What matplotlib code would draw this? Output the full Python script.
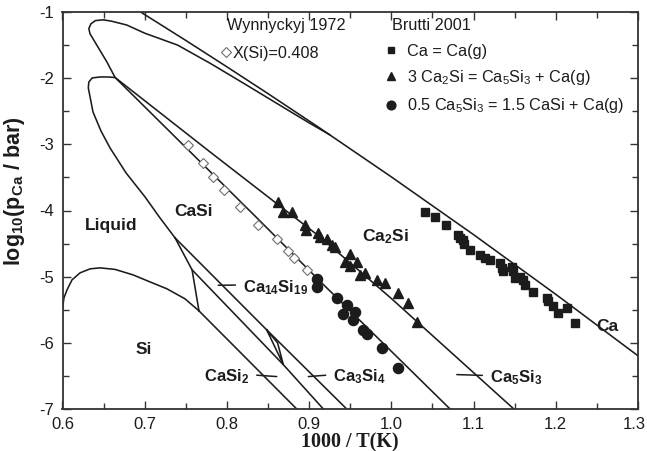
import numpy as np
import matplotlib
matplotlib.use('Agg')
import matplotlib.pyplot as plt
import matplotlib.transforms as mtransforms
from matplotlib.lines import Line2D

plt.rcParams['font.family'] = ['Liberation Sans', 'DejaVu Sans']
plt.rcParams['mathtext.fontset'] = 'custom'
plt.rcParams['mathtext.rm'] = 'Liberation Sans'
plt.rcParams['mathtext.it'] = 'Liberation Sans:italic'
plt.rcParams['mathtext.bf'] = 'Liberation Sans:bold'
plt.rcParams['mathtext.default'] = 'regular'
plt.rcParams['axes.unicode_minus'] = False

INK = '#1c1c1c'

# ---------------- data (x = 1000/T, y = log10 pCa) ----------------
# Ca(l,s)/gas line
ca_x = [0.695, 0.75, 0.80, 0.85, 0.9133, 1.0, 1.1, 1.2, 1.3]
ca_y = [-1.0, -1.430, -1.829, -2.234, -2.757, -3.492, -4.365, -5.267, -6.196]

# outer liquid loop (from Ca-line junction round the top) continuing as Ca2Si/Ca5Si3 line
outer_x = [0.925, 0.90, 0.86, 0.82, 0.78, 0.74, 0.70, 0.678, 0.66, 0.6496, 0.640, 0.6345,
           0.632, 0.6335, 0.6416, 0.6538, 0.664, 0.78, 0.86, 0.9133, 1.0, 1.149]
outer_y = [-2.855, -2.676, -2.376, -2.075, -1.778, -1.50, -1.32, -1.196, -1.14, -1.118, -1.13, -1.18,
           -1.25, -1.33, -1.498, -1.751, -1.99, -3.12, -3.89, -4.40, -5.33, -7.0]

# inner liquid loop (CaSi) continuing as Ca5Si3/CaSi line
inner_x = [0.7369, 0.7186, 0.7004, 0.6773, 0.6578, 0.6468, 0.6371, 0.6314, 0.632, 0.636,
           0.6456, 0.6553, 0.664, 0.8403, 0.9133, 1.0714]
inner_y = [-4.414, -4.112, -3.795, -3.432, -3.054, -2.798, -2.511, -2.148, -2.06, -1.997,
           -1.982, -1.982, -1.99, -4.159, -5.07, -7.0]

# Si liquidus
si_x = [0.600, 0.6018, 0.6055, 0.6116, 0.6213, 0.6335, 0.6456, 0.6639, 0.6858, 0.7064, 0.7271, 0.749, 0.766]
si_y = [-5.486, -5.32, -5.20, -5.048, -4.943, -4.882, -4.867, -4.89, -4.973, -5.079, -5.184, -5.335, -5.517]

# liquidus pieces between invariant points
kite_x = [0.7369, 0.7576, 0.766]
kite_y = [-4.414, -4.897, -5.517]

# CaSi / lower-silicide line
p1_x = [0.7369, 0.8484, 0.9457]
p1_y = [-4.414, -5.804, -7.0]
# CaSi2 upper line
l2_x = [0.7576, 0.8686, 0.9173]
l2_y = [-4.897, -6.33, -7.0]
# Si / CaSi2 line
l1_x = [0.766, 0.8849]
l1_y = [-5.517, -7.0]
# Ca3Si4 lens
lens_x = [0.8484, 0.8616, 0.8686, 0.8484]
lens_y = [-5.804, -6.00, -6.33, -5.804]

# Wynnyckyj 1972, X(Si)=0.408
wyn_x = [0.753, 0.7713, 0.7835, 0.797, 0.816, 0.838, 0.8606, 0.8737, 0.8816, 0.897]
wyn_y = [-3.009, -3.286, -3.488, -3.696, -3.94, -4.217, -4.437, -4.61, -4.724, -4.897]

# Brutti 2001: Ca = Ca(g)
sq_x = [1.041, 1.053, 1.067, 1.0815, 1.0836, 1.0876, 1.0885, 1.0958, 1.108, 1.114, 1.120, 1.132,
        1.134, 1.136, 1.1465, 1.1484, 1.1505, 1.1566, 1.1606, 1.1626, 1.1728, 1.189, 1.191, 1.197,
        1.203, 1.2134, 1.2235]
sq_y = [-4.017, -4.10, -4.22, -4.37, -4.42, -4.44, -4.50, -4.595, -4.67, -4.72, -4.746, -4.796,
        -4.87, -4.92, -4.85, -4.92, -5.02, -5.00, -5.05, -5.12, -5.225, -5.325, -5.375, -5.45,
        -5.55, -5.476, -5.70]

# Brutti 2001: 3 Ca2Si = Ca5Si3 + Ca(g)
tri_x = [0.8618, 0.8686, 0.8788, 0.895, 0.8962, 0.9112, 0.9133, 0.9214, 0.9275, 0.9315, 0.9437,
         0.9498, 0.958, 0.9498, 0.962, 0.968, 0.9822, 0.9923, 1.0076, 1.0207, 1.0309]
tri_y = [-3.866, -4.017, -4.017, -4.218, -4.293, -4.343, -4.394, -4.433, -4.52, -4.554, -4.772,
         -4.66, -4.772, -4.837, -4.973, -4.947, -5.048, -5.089, -5.249, -5.391, -5.678]

# Brutti 2001: 0.5 Ca5Si3 = 1.5 CaSi + Ca(g)
cir_x = [0.9096, 0.9096, 0.9336, 0.9461, 0.9416, 0.9558, 0.9538, 0.966, 0.970, 0.9883, 1.0082]
cir_y = [-5.033, -5.154, -5.325, -5.426, -5.57, -5.54, -5.653, -5.804, -5.864, -6.076, -6.382]

xticks = [0.6, 0.7, 0.8, 0.9, 1.0, 1.1, 1.2, 1.3]
xticklabels = ['0.6', '0.7', '0.8', '0.9', '1.0', '1.1', '1.2', '1.3']
yticks = [-7, -6, -5, -4, -3, -2, -1]
yticklabels = ['-7', '-6', '-5', '-4', '-3', '-2', '-1']

# ---------------- figure ----------------
fig = plt.figure(figsize=(6.47, 4.51), dpi=100)
ax = fig.add_axes([62.5 / 647, 1 - 409 / 451, (638 - 62.5) / 647, (409 - 12) / 451])
ax.set_xlim(0.6, 1.3)
ax.set_ylim(-7, -1)

lkw = dict(color=INK, lw=1.15, solid_joinstyle='round')
for xs, ys in [(ca_x, ca_y), (outer_x, outer_y), (inner_x, inner_y), (si_x, si_y),
               (kite_x, kite_y), (p1_x, p1_y), (l2_x, l2_y), (l1_x, l1_y), (lens_x, lens_y)]:
    ax.plot(xs, ys, **lkw)

h_d, = ax.plot(wyn_x, wyn_y, ls='none', marker='D', ms=4.6, mfc='white', mec='#6e6e6e', mew=0.8)
h_s, = ax.plot(sq_x, sq_y, ls='none', marker='s', ms=5.4, color=INK)
h_t, = ax.plot(tri_x, tri_y, ls='none', marker='^', ms=6.8, color=INK)
h_c, = ax.plot(cir_x, cir_y, ls='none', marker='o', ms=7.3, color=INK)

# legends
fs_leg = 11.7
ax.text(0.2853, 0.9655, 'Wynnyckyj 1972', transform=ax.transAxes, ha='left', va='center',
        fontsize=fs_leg, color=INK)
ax.text(0.572, 0.967, 'Brutti 2001', transform=ax.transAxes, ha='left', va='center',
        fontsize=fs_leg, color=INK)
leg1 = ax.legend([h_d], ['X(Si)=0.408'], loc='center left', bbox_to_anchor=(0.278, 0.896),
                 frameon=False, handlelength=0.45, handletextpad=0.2, borderpad=0,
                 borderaxespad=0, fontsize=fs_leg, labelcolor=INK)
ax.add_artist(leg1)
h_s2 = Line2D([], [], ls='none', marker='s', ms=4.6, color=INK)
h_t2 = Line2D([], [], ls='none', marker='^', ms=5.8, color=INK)
h_c2 = Line2D([], [], ls='none', marker='o', ms=6.3, color=INK)
leg2 = ax.legend([h_s2, h_t2, h_c2],
                 ['Ca = Ca(g)', '3 Ca$_2$Si = Ca$_5$Si$_3$ + Ca(g)',
                  '0.5 Ca$_5$Si$_3$ = 1.5 CaSi + Ca(g)'],
                 loc='center left', bbox_to_anchor=(0.557, 0.830), frameon=False,
                 handlelength=1.0, handletextpad=0.5, borderpad=0, borderaxespad=0,
                 labelspacing=0.58, fontsize=fs_leg, labelcolor=INK)

# region labels
fs_reg = 12.5
for txt, x, y in [('Liquid', 0.659, -4.23), ('CaSi', 0.7589, -4.02), ('Si', 0.6983, -6.106),
                  (r'$\mathbf{Ca_2Si}$', 0.9923, -4.399), ('Ca', 1.2624, -5.754)]:
    ax.text(x, y, txt, ha='center', va='center', fontsize=fs_reg, fontweight='bold', color=INK)

# line labels with leader ticks
akw = dict(arrowstyle='-', color=INK, lw=1.1, shrinkA=3.5, shrinkB=0)
ax.annotate(r'$\mathbf{Ca_{14}Si_{19}}$', xy=(0.7894, -5.13), xytext=(0.8196, -5.23),
            ha='left', va='baseline', fontsize=12, color=INK,
            arrowprops=dict(akw, relpos=(0, 0.62)))
ax.annotate(r'$\mathbf{CaSi_2}$', xy=(0.8606, -6.51), xytext=(0.827, -6.585),
            ha='right', va='baseline', fontsize=12, color=INK,
            arrowprops=dict(akw, relpos=(1, 0.62)))
ax.annotate(r'$\mathbf{Ca_3Si_4}$', xy=(0.899, -6.51), xytext=(0.9294, -6.585),
            ha='left', va='baseline', fontsize=12, color=INK,
            arrowprops=dict(akw, relpos=(0, 0.62)))
ax.annotate(r'$\mathbf{Ca_5Si_3}$', xy=(1.0796, -6.48), xytext=(1.120, -6.60),
            ha='left', va='baseline', fontsize=12, color=INK,
            arrowprops=dict(akw, relpos=(0, 0.62)))

# axes styling
ax.set_xticks(xticks)
ax.set_xticklabels(xticklabels)
ax.set_yticks(yticks)
ax.set_yticklabels(yticklabels)
ax.set_xticks(np.arange(0.65, 1.3, 0.1), minor=True)
ax.set_yticks(np.arange(-6.5, -1, 1.0), minor=True)
ax.tick_params(which='both', direction='in', top=True, right=True, colors='#333333',
               labelcolor=INK, labelsize=12)
ax.tick_params(which='major', length=6, width=1.0)
ax.tick_params(which='minor', length=4, width=1.0)
ax.tick_params(axis='x', pad=6)
ax.tick_params(axis='y', pad=6)
for sp in ax.spines.values():
    sp.set_color('#333333')
    sp.set_linewidth(1.3)

# keep the last x tick label inside the canvas
last = ax.get_xticklabels()[-1]
last.set_transform(last.get_transform() + mtransforms.ScaledTranslation(-4 / 100, 0, fig.dpi_scale_trans))

ax.set_xlabel('1000 / T(K)', fontfamily='Liberation Serif', fontweight='bold', fontsize=14.5,
              color=INK, labelpad=0)
ax.set_ylabel(r'$\mathbf{log_{10}(p_{Ca}\ /\ bar)}$', fontsize=15.5, color=INK)
ax.yaxis.set_label_coords(-0.062, 0.548)

fig.savefig('out.png', dpi=100)
